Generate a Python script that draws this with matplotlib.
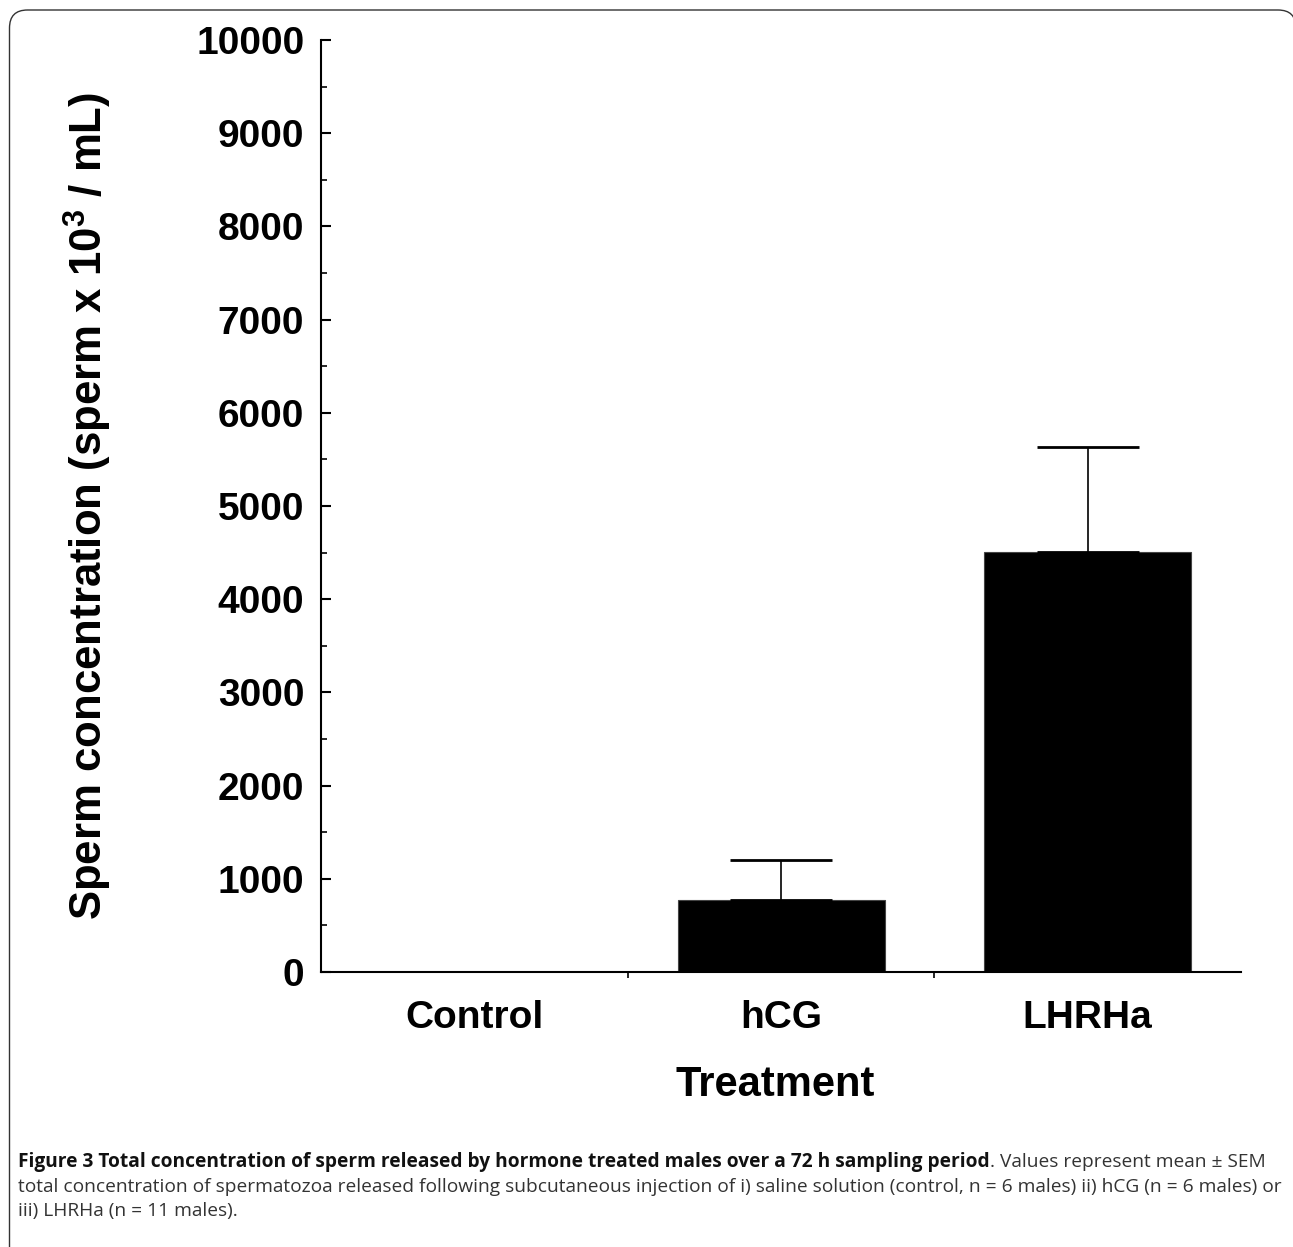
import matplotlib.pyplot as plt
from matplotlib.patches import PathPatch
from matplotlib.path import Path
from matplotlib.transforms import IdentityTransform

# data
groups = ["Control", "hCG", "LHRHa"]
means = [0, 775, 4505]
sems = [0, 425, 1130]

plt.rcParams["font.family"] = ["Liberation Sans", "DejaVu Sans"]
plt.rcParams["mathtext.fontset"] = "custom"
plt.rcParams["mathtext.bf"] = "Liberation Sans:bold"
plt.rcParams["mathtext.rm"] = "Liberation Sans"

W, H = 1293, 1247
fig = plt.figure(figsize=(W / 100, H / 100), dpi=100)

# rounded frame around the figure, drawn in pixels (right/bottom run off the canvas)
left, right, top, bottom, r = 9.5, 1296, H - 10, -40, 18
verts = [(left, bottom), (left, top - r), (left, top), (left + r, top),
         (right - r, top), (right, top), (right, top - r), (right, bottom)]
codes = [Path.MOVETO, Path.LINETO, Path.CURVE3, Path.CURVE3,
         Path.LINETO, Path.CURVE3, Path.CURVE3, Path.LINETO]
fig.patches.append(PathPatch(Path(verts, codes), transform=IdentityTransform(),
                             fill=False, edgecolor="#333333", linewidth=1.0))

ax = fig.add_axes([321 / W, 275 / H, (1241 - 321) / W, (972 - 40) / H])

x = list(range(len(groups)))
ax.bar(x, means, width=0.675, color="black", edgecolor="#444444", linewidth=0.8)
ax.errorbar(
    x[1:], means[1:], yerr=[[0] * 2, sems[1:]], fmt="none",
    ecolor="black", elinewidth=1.2, capsize=37, capthick=2,
)

ax.set_xlim(-0.5, 2.5)
ax.set_ylim(0, 10000)
ax.set_yticks(range(0, 10001, 1000))
ax.set_yticks(range(500, 10000, 1000), minor=True)
ax.tick_params(axis="y", which="major", direction="in", length=7.5, width=1.5,
               labelsize=28, pad=12)
ax.tick_params(axis="y", which="minor", direction="in", length=4, width=1.2)
for lab in ax.get_yticklabels():
    lab.set_fontweight("bold")

ax.set_xticks(x)
ax.set_xticklabels(groups, fontsize=28, fontweight="bold")
ax.set_xticks([0.5, 1.5], minor=True)
ax.tick_params(axis="x", which="major", length=0, pad=20)
ax.tick_params(axis="x", which="minor", direction="out", length=4, width=1.2)

for side in ["top", "right"]:
    ax.spines[side].set_visible(False)
for side in ["left", "bottom"]:
    ax.spines[side].set_linewidth(1.5)

ax.set_ylabel(r"Sperm concentration (sperm x 10$^{\mathbf{3}}$ / mL)",
              fontsize=31.5, fontweight="bold", va="center")
ax.yaxis.set_label_coords(-0.253, 0.5)
ax.set_xlabel("Treatment", fontsize=30, fontweight="bold", va="center")
ax.xaxis.set_label_coords(0.494, -0.121)

# caption
cap_font = ["Open Sans", "DejaVu Sans"]
cap_size = 13.75
bold_part = ("Figure 3 Total concentration of sperm released by hormone "
             "treated males over a 72 h sampling period")
t1 = fig.text(18 / W, 1 - 1162 / H, bold_part, family=cap_font,
              fontweight="bold", fontsize=cap_size, va="center", color="#111111")
fig.canvas.draw()
bb = t1.get_window_extent()
fig.text(bb.x1 / W, 1 - 1162 / H, ". Values represent mean ± SEM",
         family=cap_font, fontsize=cap_size, va="center", color="#333333")
fig.text(18 / W, 1 - 1187 / H,
         "total concentration of spermatozoa released following subcutaneous "
         "injection of i) saline solution (control, n = 6 males) ii) hCG "
         "(n = 6 males) or",
         family=cap_font, fontsize=cap_size, va="center", color="#333333")
fig.text(18 / W, 1 - 1211 / H, "iii) LHRHa (n = 11 males).",
         family=cap_font, fontsize=cap_size, va="center", color="#333333")

fig.savefig("out.png", dpi=100)
